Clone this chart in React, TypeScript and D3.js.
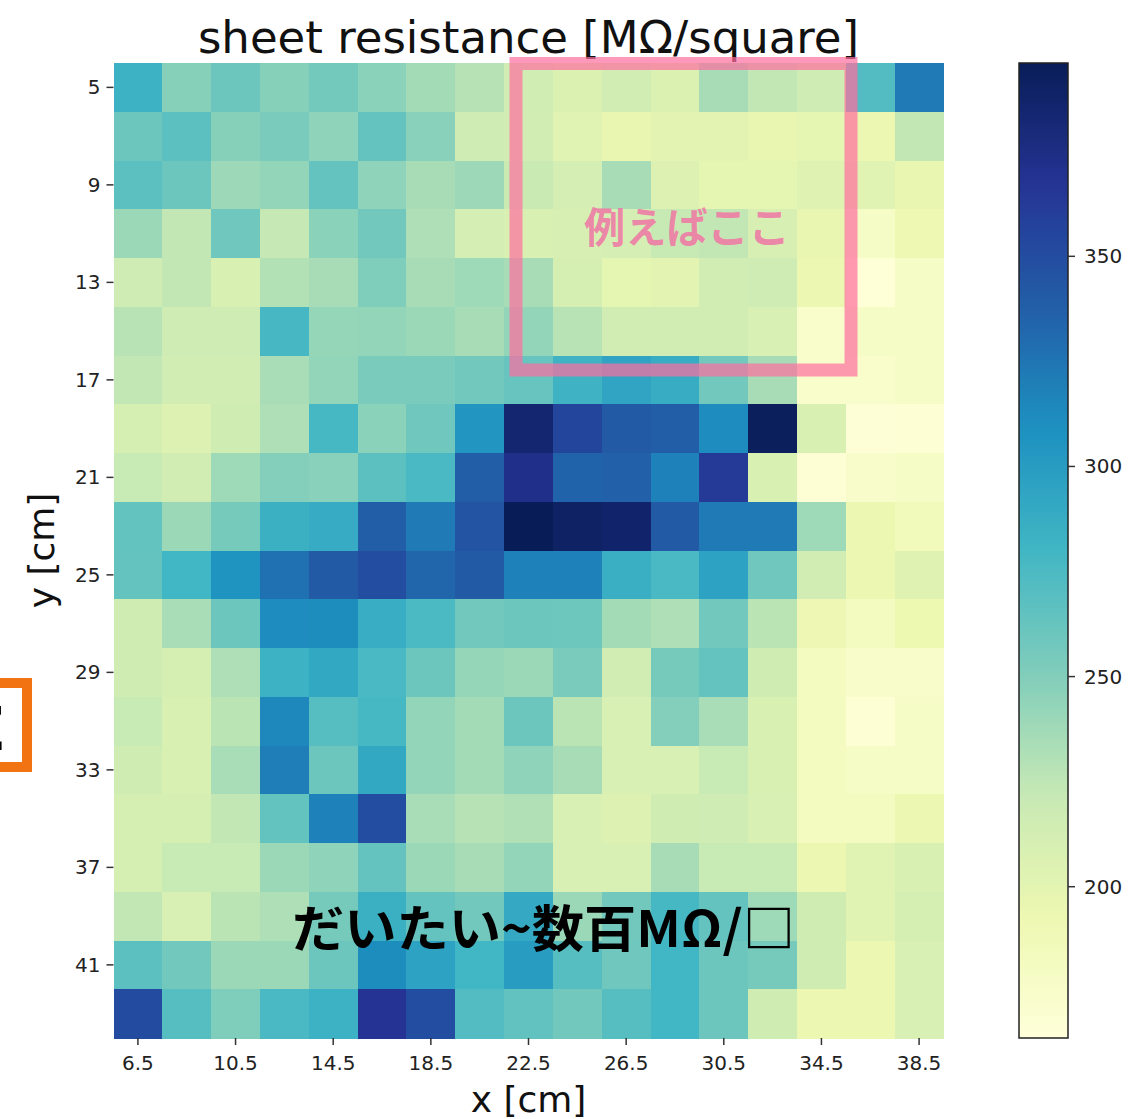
import React from "react";
import * as d3 from "d3";

// Measurement grid (cm)
const xPositions = [6.5, 8.5, 10.5, 12.5, 14.5, 16.5, 18.5, 20.5, 22.5, 24.5, 26.5, 28.5, 30.5, 32.5, 34.5, 36.5, 38.5];
const yPositions = [5, 7, 9, 11, 13, 15, 17, 19, 21, 23, 25, 27, 29, 31, 33, 35, 37, 39, 41, 43];
const xTickLabels = [6.5, 10.5, 14.5, 18.5, 22.5, 26.5, 30.5, 34.5, 38.5];
const yTickLabels = [5, 9, 13, 17, 21, 25, 29, 33, 37, 41];
const colorbarTicks = [200, 250, 300, 350];
const colorDomain = [164, 396];

// Sheet resistance [MΩ/square], one row per y position
const resistance: number[][] = [
  [283, 248, 260, 248, 256, 246, 236, 229, 215, 207, 214, 207, 235, 224, 217, 272, 322],
  [260, 267, 248, 253, 245, 263, 247, 217, 214, 203, 197, 201, 201, 196, 199, 194, 224],
  [267, 260, 239, 243, 263, 245, 235, 239, 220, 212, 235, 206, 199, 199, 204, 202, 197],
  [240, 224, 258, 223, 246, 257, 232, 212, 208, 210, 212, 222, 224, 210, 196, 178, 192],
  [217, 224, 208, 230, 235, 251, 235, 238, 235, 211, 199, 201, 214, 217, 194, 166, 178],
  [228, 217, 217, 277, 242, 243, 240, 235, 243, 228, 214, 214, 214, 209, 174, 178, 178],
  [224, 214, 214, 234, 243, 253, 253, 257, 262, 282, 294, 288, 257, 235, 174, 174, 178],
  [211, 205, 216, 232, 278, 246, 258, 305, 385, 355, 341, 338, 312, 394, 208, 167, 168],
  [221, 214, 238, 249, 247, 267, 276, 338, 372, 335, 337, 318, 363, 208, 168, 175, 178],
  [264, 240, 255, 285, 289, 338, 322, 345, 396, 390, 387, 341, 322, 322, 238, 194, 186],
  [263, 280, 307, 327, 341, 350, 334, 341, 318, 318, 286, 276, 296, 258, 214, 194, 204],
  [216, 234, 260, 312, 311, 287, 275, 257, 260, 259, 236, 232, 257, 227, 191, 182, 193],
  [216, 211, 232, 283, 291, 276, 260, 242, 240, 253, 214, 255, 263, 216, 182, 175, 175],
  [221, 208, 227, 314, 270, 278, 243, 236, 260, 227, 209, 249, 234, 208, 182, 168, 178],
  [216, 208, 234, 320, 260, 291, 243, 236, 245, 235, 209, 209, 221, 208, 182, 178, 178],
  [211, 211, 224, 264, 318, 350, 234, 229, 231, 209, 205, 216, 217, 209, 182, 182, 194],
  [211, 221, 221, 240, 245, 263, 240, 235, 243, 209, 209, 235, 221, 221, 194, 202, 208],
  [224, 209, 227, 232, 255, 285, 263, 257, 290, 240, 257, 278, 263, 238, 216, 202, 211],
  [267, 257, 240, 240, 260, 311, 296, 280, 300, 270, 258, 280, 260, 255, 216, 194, 209],
  [351, 270, 251, 276, 283, 367, 350, 272, 265, 257, 270, 280, 260, 216, 194, 194, 209],
];

// YlGnBu (ColorBrewer 9-class) control colours
const ylGnBu = ["#ffffd9", "#edf8b1", "#c7e9b4", "#7fcdbb", "#41b6c4", "#1d91c0", "#225ea8", "#253494", "#081d58"];

const W = 1132;
const H = 1119;
const plot = { left: 113.5, top: 63, width: 830, height: 975 };
const cbar = { left: 1019, top: 63, width: 49, height: 975 };

const sans = "'DejaVu Sans', sans-serif";
const cjk = "'Noto Sans CJK JP', 'Noto Sans', sans-serif";

export default function App() {
  const [vmin, vmax] = colorDomain;
  const color = d3
    .scaleLinear<string>()
    .domain(ylGnBu.map((_, i) => vmin + (i * (vmax - vmin)) / (ylGnBu.length - 1)))
    .range(ylGnBu)
    .interpolate(d3.interpolateRgb)
    .clamp(true);

  const x = d3
    .scaleBand<number>()
    .domain(xPositions)
    .range([plot.left, plot.left + plot.width])
    .padding(0);
  const y = d3
    .scaleBand<number>()
    .domain(yPositions)
    .range([plot.top, plot.top + plot.height])
    .padding(0);
  const cy = d3
    .scaleLinear()
    .domain(colorDomain)
    .range([cbar.top + cbar.height, cbar.top]);

  const gradStops = d3.range(0, 1.0001, 0.02).map((t) => ({
    offset: t,
    color: color(vmin + t * (vmax - vmin)),
  }));

  return (
    <svg
      width={W}
      height={H}
      viewBox={`0 0 ${W} ${H}`}
      style={{ position: "absolute", left: 0, top: 0, background: "#fff" }}
    >
      <defs>
        <linearGradient id="cbarGrad" x1="0" y1="1" x2="0" y2="0">
          {gradStops.map((s, i) => (
            <stop key={i} offset={s.offset} stopColor={s.color} />
          ))}
        </linearGradient>
      </defs>

      {/* heatmap cells */}
      <g shapeRendering="crispEdges">
        {resistance.map((row, ri) =>
          row.map((v, ci) => (
            <rect
              key={`${ri}-${ci}`}
              x={x(xPositions[ci])}
              y={y(yPositions[ri])}
              width={x.bandwidth() + 0.5}
              height={y.bandwidth() + 0.5}
              fill={color(v)}
            />
          ))
        )}
      </g>

      {/* y axis */}
      <g>
        {yTickLabels.map((t) => {
          const yy = (y(t) ?? 0) + y.bandwidth() / 2;
          return (
            <g key={t}>
              <line x1={plot.left - 7} x2={plot.left} y1={yy} y2={yy} stroke="#333" strokeWidth={1.5} />
              <text x={plot.left - 13} y={yy} dy="0.35em" textAnchor="end" fontFamily={sans} fontSize={20} fill="#222">
                {t}
              </text>
            </g>
          );
        })}
      </g>

      {/* x axis */}
      <g>
        {xTickLabels.map((t) => {
          const xx = (x(t) ?? 0) + x.bandwidth() / 2;
          const y0 = plot.top + plot.height;
          return (
            <g key={t}>
              <line x1={xx} x2={xx} y1={y0} y2={y0 + 7} stroke="#333" strokeWidth={1.5} />
              <text x={xx} y={y0 + 32} textAnchor="middle" fontFamily={sans} fontSize={20} fill="#222">
                {t}
              </text>
            </g>
          );
        })}
      </g>

      {/* titles */}
      <text x={plot.left + plot.width / 2} y={53} textAnchor="middle" fontFamily={sans} fontSize={45} fill="#111">
        sheet resistance [MΩ/square]
      </text>
      <text x={plot.left + plot.width / 2} y={1112} textAnchor="middle" fontFamily={sans} fontSize={36} fill="#111">
        x [cm]
      </text>
      <text
        transform={`translate(54, ${plot.top + plot.height / 2}) rotate(-90)`}
        textAnchor="middle"
        fontFamily={sans}
        fontSize={36}
        fill="#111"
      >
        y [cm]
      </text>

      {/* colorbar */}
      <rect x={cbar.left} y={cbar.top} width={cbar.width} height={cbar.height} fill="url(#cbarGrad)" stroke="#222" strokeWidth={1.5} />
      {colorbarTicks.map((t) => (
        <g key={t}>
          <line x1={cbar.left + cbar.width} x2={cbar.left + cbar.width + 7} y1={cy(t)} y2={cy(t)} stroke="#333" strokeWidth={1.5} />
          <text x={cbar.left + cbar.width + 16} y={cy(t)} dy="0.35em" fontFamily={sans} fontSize={20} fill="#222">
            {t}
          </text>
        </g>
      ))}

      {/* annotations */}
      <rect x={516} y={63.5} width={335} height={306.5} fill="none" stroke="rgb(255,110,160)" strokeOpacity={0.7} strokeWidth={13} />
      <text x={584} y={243} textLength={206} lengthAdjust="spacingAndGlyphs" fontFamily={cjk} fontWeight={700} fontSize={42} fill="#f07aa6" fillOpacity={0.9}>
        例えばここ
      </text>
      <text x={292} y={947} textLength={503} lengthAdjust="spacingAndGlyphs" fontFamily={cjk} fontWeight={700} fontSize={50} fill="#000">
        だいたい~数百MΩ/□
      </text>

      <rect x={-20} y={683} width={47} height={84} fill="#fff" stroke="#f27312" strokeWidth={10} />
      <text x={6} y={750} textAnchor="end" fontFamily={sans} fontWeight={700} fontSize={60} fill="#000">
        E
      </text>
    </svg>
  );
}
